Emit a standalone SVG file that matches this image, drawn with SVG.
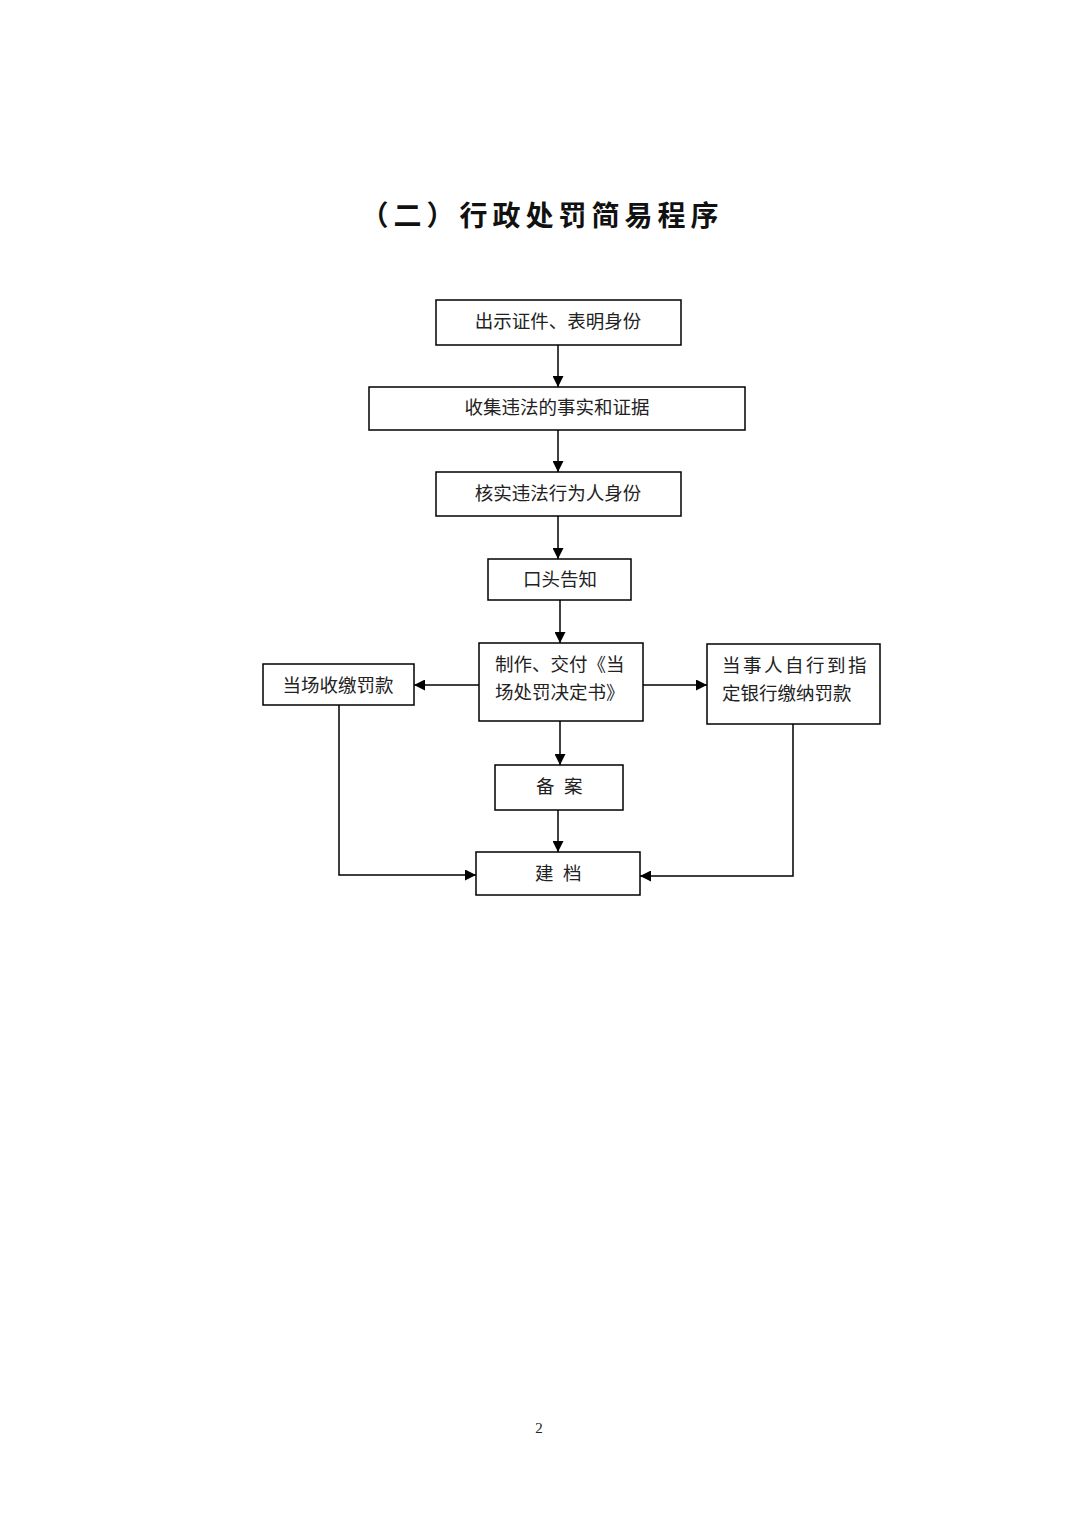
<svg xmlns="http://www.w3.org/2000/svg" width="1080" height="1528" viewBox="0 0 1080 1528">
<style>
.box{fill:#fff;stroke:#000;stroke-width:1.5}
.t{font-family:"Liberation Serif","Noto Sans CJK SC",serif;font-size:18.5px;fill:#222}
.c{text-anchor:middle}
.title{font-family:"Noto Sans CJK SC",sans-serif;font-size:28px;font-weight:bold;fill:#111;text-anchor:middle;letter-spacing:5px}
.ln{fill:none;stroke:#000;stroke-width:1.5}
</style>
<defs>
<marker id="ah" viewBox="0 0 10 10" refX="10" refY="5" markerWidth="12" markerHeight="11" orient="auto" markerUnits="userSpaceOnUse">
<path d="M0,0 L10,5 L0,10 z" fill="#000"/>
</marker>
</defs>
<rect width="1080" height="1528" fill="#fff"/>
<text class="title" x="542" y="226">（二）行政处罚简易程序</text>

<g id="n1"><rect class="box" x="436" y="300" width="245" height="45"/><text class="t c" x="558" y="328">出示证件、表明身份</text></g>
<g id="n2"><rect class="box" x="369" y="387" width="376" height="43"/><text class="t c" x="557" y="414">收集违法的事实和证据</text></g>
<g id="n3"><rect class="box" x="436" y="472" width="245" height="44"/><text class="t c" x="558" y="500">核实违法行为人身份</text></g>
<g id="n4"><rect class="box" x="488" y="559" width="143" height="41"/><text class="t c" x="560" y="586">口头告知</text></g>
<g id="n5"><rect class="box" x="479" y="643" width="164" height="78"/><text class="t" x="495" y="671">制作、交付《当</text><text class="t" x="495" y="699">场处罚决定书》</text></g>
<g id="n6"><rect class="box" x="263" y="664" width="151" height="41"/><text class="t c" x="338" y="692">当场收缴罚款</text></g>
<g id="n7"><rect class="box" x="707" y="644" width="173" height="80"/><text class="t" x="722" y="672" letter-spacing="2.5">当事人自行到指</text><text class="t" x="722" y="700">定银行缴纳罚款</text></g>
<g id="n8"><rect class="box" x="495" y="765" width="128" height="45"/><text class="t" x="536" y="793">备</text><text class="t" x="564" y="793">案</text></g>
<g id="n9"><rect class="box" x="476" y="852" width="164" height="43"/><text class="t" x="535" y="880">建</text><text class="t" x="563" y="880">档</text></g>

<g id="connectors">
<path class="ln" d="M558,345 V387" marker-end="url(#ah)"/>
<path class="ln" d="M558,430 V472" marker-end="url(#ah)"/>
<path class="ln" d="M558,516 V559" marker-end="url(#ah)"/>
<path class="ln" d="M560,600 V643" marker-end="url(#ah)"/>
<path class="ln" d="M479,685 H414" marker-end="url(#ah)"/>
<path class="ln" d="M643,685 H707" marker-end="url(#ah)"/>
<path class="ln" d="M560,721 V765" marker-end="url(#ah)"/>
<path class="ln" d="M558,810 V852" marker-end="url(#ah)"/>
<path class="ln" d="M339,705 V875 H476" marker-end="url(#ah)"/>
<path class="ln" d="M793,724 V876 H640" marker-end="url(#ah)"/>
</g>
<text x="539" y="1433" font-family="Liberation Serif, serif" font-size="15" text-anchor="middle" fill="#222">2</text>
</svg>
